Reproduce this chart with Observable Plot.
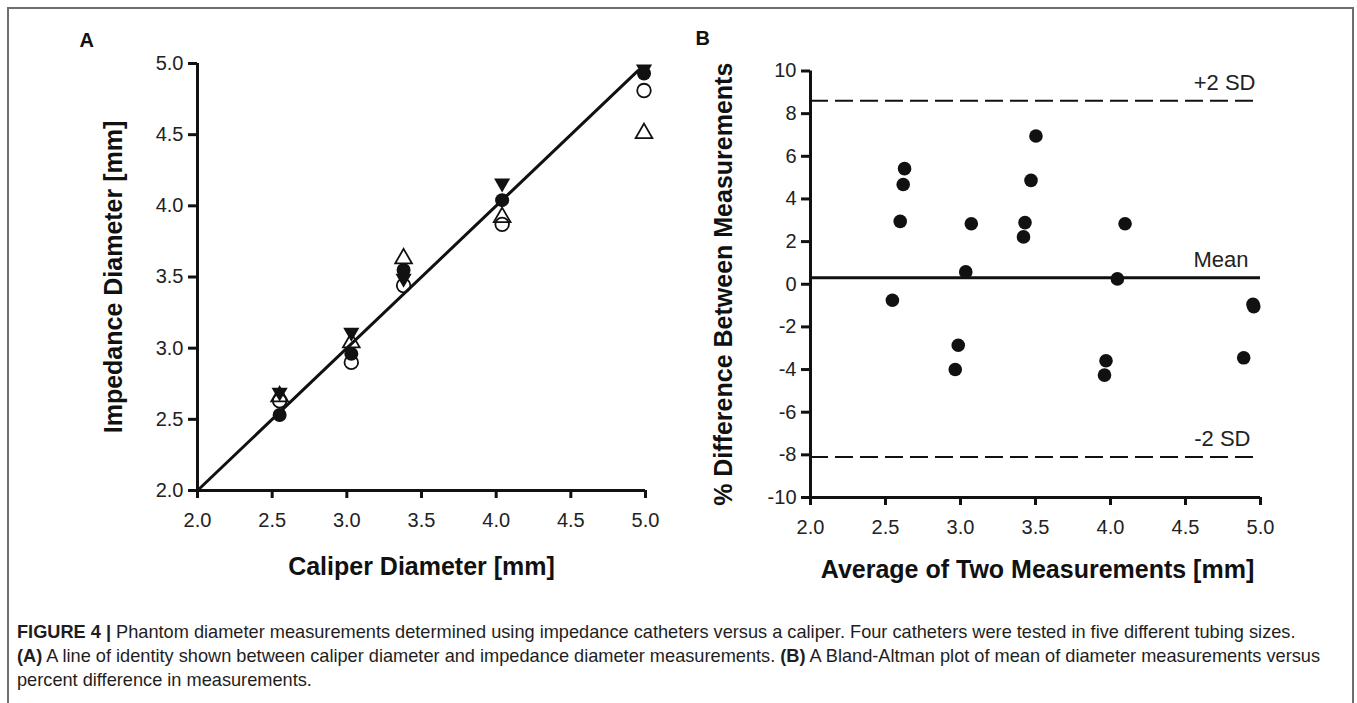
<!DOCTYPE html>
<html><head><meta charset="utf-8">
<script src="https://cdn.jsdelivr.net/npm/d3@7"></script>
<script src="https://cdn.jsdelivr.net/npm/@observablehq/plot@0.6"></script>
<style>
html,body{margin:0;padding:0;background:#fff;}
body{width:1357px;height:703px;position:relative;overflow:hidden;font-family:"Liberation Sans",Arial,sans-serif;}
#frame{position:absolute;left:7px;top:7px;width:1347px;height:730px;border:2px solid #6e6e6e;box-sizing:border-box;}
#chartA{position:absolute;left:0;top:0;}
#chartB{position:absolute;left:680px;top:0;}
#caption{position:absolute;left:17px;top:620px;font-size:16px;line-height:24px;color:#1e1e1e;white-space:nowrap;}
#caption div{display:block;}
#caption b{font-weight:bold;}
</style></head><body>
<div id="frame"></div>
<div id="chartA"></div>
<div id="chartB"></div>
<div id="caption">
<div><span id="line1"><b>FIGURE 4 |</b> Phantom diameter measurements determined using impedance catheters versus a caliper. Four catheters were tested in five different tubing sizes.</span></div>
<div><b>(A)</b> A line of identity shown between caliper diameter and impedance diameter measurements. <b>(B)</b> A Bland-Altman plot of mean of diameter measurements versus</div>
<div>percent difference in measurements.</div>
</div>
<script>
// ---------- Panel A data ----------
const caliperDiameter = [2.55, 3.03, 3.38, 4.04, 4.99];
const catheterFilledCircle = [2.53, 2.96, 3.55, 4.04, 4.93];
const catheterOpenCircle = [2.63, 2.90, 3.44, 3.87, 4.81];
const catheterFilledDown = [2.69, 3.11, 3.49, 4.16, 4.96];
const catheterOpenUp = [2.66, 3.04, 3.63, 3.92, 4.51];
const identityLine = [2.0, 4.95];
const ticksA = [2.0, 2.5, 3.0, 3.5, 4.0, 4.5, 5.0];
const xTitleA = "Caliper Diameter [mm]";
const yTitleA = "Impedance Diameter [mm]";

// ---------- Panel B data ----------
const averageOfTwo = [2.546, 2.598, 2.618, 2.627, 2.965, 2.985, 3.035, 3.072, 3.42, 3.43, 3.47, 3.503, 3.96, 3.97, 4.046, 4.097, 4.888, 4.95, 4.955];
const percentDiff = [-0.75, 2.95, 4.68, 5.42, -4.0, -2.86, 0.58, 2.84, 2.22, 2.89, 4.87, 6.95, -4.26, -3.59, 0.25, 2.84, -3.45, -0.94, -1.05];
const meanDiff = 0.3;
const plus2SD = 8.6;
const minus2SD = -8.1;
const xTicksB = [2.0, 2.5, 3.0, 3.5, 4.0, 4.5, 5.0];
const yTicksB = [-10, -8, -6, -4, -2, 0, 2, 4, 6, 8, 10];
const xTitleB = "Average of Two Measurements [mm]";
const yTitleB = "% Difference Between Measurements";
const refLabels = ["+2 SD", "Mean", "-2 SD"];

const sqrt3 = Math.sqrt(3);
const triangleDown = {
  draw(context, size) {
    const y = -Math.sqrt(size / (sqrt3 * 3));
    context.moveTo(0, -y * 2);
    context.lineTo(-sqrt3 * y, y);
    context.lineTo(sqrt3 * y, y);
    context.closePath();
  }
};

const fmt1 = d3.format(".1f");
const fmtInt = d => String(d);
const font = "'Liberation Sans', Arial, sans-serif";
const ink = "#111";

const idx = d3.range(caliperDiameter.length);

const chartA = Plot.plot({
  width: 680, height: 600,
  marginLeft: 197, marginRight: 35, marginTop: 63, marginBottom: 110,
  style: {fontFamily: font, background: "transparent", overflow: "visible", color: ink},
  x: {domain: [2, 5]},
  y: {domain: [2, 5]},
  marks: [
    Plot.axisX({ticks: ticksA, tickFormat: fmt1, tickSize: 8, tickPadding: 14, fontSize: 20, strokeWidth: 3, label: null, fill: "#222"}),
    Plot.axisY({ticks: ticksA, tickFormat: fmt1, tickSize: 9, tickPadding: 5, fontSize: 20, strokeWidth: 3, label: null, fill: "#222"}),
    Plot.ruleX([2], {strokeWidth: 3, stroke: ink}),
    Plot.ruleY([2], {strokeWidth: 3, stroke: ink}),
    Plot.line(identityLine, {x: d => d, y: d => d, strokeWidth: 3, stroke: ink}),
    Plot.dot(idx, {x: i => caliperDiameter[i], y: i => catheterOpenCircle[i], r: 6.8, stroke: ink, strokeWidth: 1.8, fill: "none"}),
    Plot.dot(idx, {x: i => caliperDiameter[i], y: i => catheterFilledCircle[i], r: 7, fill: ink, stroke: "none"}),
    Plot.dot(idx, {x: i => caliperDiameter[i], y: i => catheterFilledDown[i], r: 6, symbol: triangleDown, fill: ink, stroke: "none"}),
    Plot.dot(idx, {x: i => caliperDiameter[i], y: i => catheterOpenUp[i], r: 6.2, symbol: "triangle", stroke: ink, strokeWidth: 1.8, fill: "none"}),
    Plot.text([xTitleA], {text: d => d, frameAnchor: "bottom", dy: 76, textAnchor: "middle", lineAnchor: "middle", fontSize: 25, fontWeight: "bold", fill: ink}),
    Plot.text([yTitleA], {text: d => d, frameAnchor: "left", dx: -84, rotate: -90, textAnchor: "middle", lineAnchor: "middle", fontSize: 25, fontWeight: "bold", fill: ink}),
    Plot.text(["A"], {text: d => d, frameAnchor: "top-left", dx: -118, dy: -31, textAnchor: "start", lineAnchor: "top", fontSize: 20, fontWeight: "bold", fill: ink})
  ]
});
document.getElementById("chartA").appendChild(chartA);

const idxB = d3.range(averageOfTwo.length);
const refValues = [plus2SD, meanDiff, minus2SD];
const refDx = [-5, -12, -10];

const chartB = Plot.plot({
  width: 677, height: 600,
  marginLeft: 130, marginRight: 97, marginTop: 70.5, marginBottom: 103,
  style: {fontFamily: font, background: "transparent", overflow: "visible", color: ink},
  x: {domain: [2, 5]},
  y: {domain: [-10, 10]},
  marks: [
    Plot.axisX({ticks: xTicksB, tickFormat: fmt1, tickSize: 8, tickPadding: 14, fontSize: 20, strokeWidth: 3, label: null, fill: "#222"}),
    Plot.axisY({ticks: yTicksB, tickFormat: fmtInt, tickSize: 9, tickPadding: 5, fontSize: 20, strokeWidth: 3, label: null, fill: "#222"}),
    Plot.ruleY([plus2SD, minus2SD], {x1: 2, x2: 5, stroke: ink, strokeWidth: 2, strokeDasharray: "18,7"}),
    Plot.ruleY([meanDiff], {x1: 2, x2: 5, stroke: ink, strokeWidth: 3}),
    Plot.ruleX([2], {strokeWidth: 3, stroke: ink}),
    Plot.ruleY([-10], {strokeWidth: 3, stroke: ink}),
    Plot.dot(idxB, {x: i => averageOfTwo[i], y: i => percentDiff[i], r: 6.8, fill: ink, stroke: "none"}),
    ...refLabels.map((lab, i) => Plot.text([lab], {text: d => d, x: () => 5, y: () => refValues[i], dx: refDx[i], dy: -18, textAnchor: "end", fontSize: 22, fill: "#222"})),
    Plot.text([xTitleB], {text: d => d, frameAnchor: "bottom", dy: 72, dx: 2, textAnchor: "middle", lineAnchor: "middle", fontSize: 25, fontWeight: "bold", fill: ink}),
    Plot.text([yTitleB], {text: d => d, frameAnchor: "left", dx: -87, rotate: -90, textAnchor: "middle", lineAnchor: "middle", fontSize: 25, fontWeight: "bold", fill: ink}),
    Plot.text(["B"], {text: d => d, frameAnchor: "top-left", dx: -115, dy: -40, textAnchor: "start", lineAnchor: "top", fontSize: 20, fontWeight: "bold", fill: ink})
  ]
});
document.getElementById("chartB").appendChild(chartB);

// fit caption first line to the reference width
const line1 = document.getElementById("line1");
const w = line1.getBoundingClientRect().width;
const fs = Math.max(12, Math.min(20, 16 * 1279 / w));
document.getElementById("caption").style.fontSize = fs.toFixed(2) + "px";
</script>
</body></html>
